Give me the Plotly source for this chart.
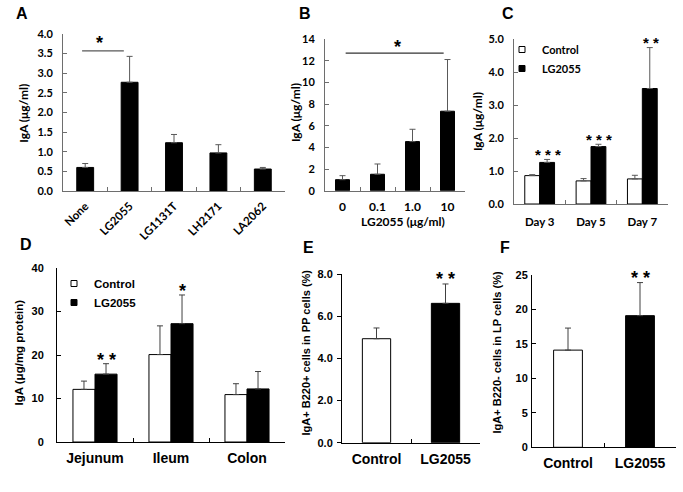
import plotly.graph_objects as go

W, H = 683, 492

# ---------------- data ----------------
a_cats = ["None", "LG2055", "LG1131T", "LH2171", "LA2062"]
a_vals = [0.60, 2.77, 1.23, 0.97, 0.56]
a_tops = [0.70, 3.43, 1.44, 1.18, 0.60]

b_cats = ["0", "0.1", "1.0", "10"]
b_vals = [1.02, 1.52, 4.54, 7.35]
b_tops = [1.39, 2.47, 5.68, 12.13]

c_cats = ["Day 3", "Day 5", "Day 7"]
c_ctrl = [0.86, 0.70, 0.76]
c_ctrl_tops = [0.89, 0.77, 0.87]
c_lg = [1.26, 1.74, 3.50]
c_lg_tops = [1.35, 1.81, 4.74]
c_stars = ["* * *", "* * *", "* *"]

d_cats = ["Jejunum", "Ileum", "Colon"]
d_ctrl = [12.1, 20.1, 10.9]
d_ctrl_tops = [14.0, 26.7, 13.4]
d_lg = [15.6, 27.2, 12.2]
d_lg_tops = [18.0, 33.8, 16.2]
d_stars = ["* *", "*", ""]

e_cats = ["Control", "LG2055"]
e_vals = [4.94, 6.62]
e_tops = [5.45, 7.54]
e_stars = ["", "* *"]

f_cats = ["Control", "LG2055"]
f_vals = [14.1, 19.1]
f_tops = [17.3, 23.9]
f_stars = ["", "* *"]


# ---------------- helpers ----------------
def xdom(x0, x1):
    return [x0 / W, x1 / W]


def ydom(ytop, ybot):
    return [1 - ybot / H, 1 - ytop / H]


def ups(vals, tops):
    return [t - v for v, t in zip(vals, tops)]


CAL = "Lato"
ARI = "Liberation Sans"
GRAY = "#595959"


def font(fam, size, color="black", bold=True):
    return dict(family=fam, size=size, color=color, weight="bold" if bold else "normal")


fig = go.Figure()


def add_bar(cats, vals, tops, ax, fill, width, offset=None, errcol="#404040", name=""):
    fig.add_trace(go.Bar(
        x=cats, y=vals, width=width, offset=offset, name=name, showlegend=False,
        marker=dict(color=fill, line=dict(color="black", width=1)),
        error_y=dict(type="data", symmetric=False, array=ups(vals, tops),
                     arrayminus=[0] * len(vals), thickness=1, width=3, color=errcol),
        xaxis="x" + ax, yaxis="y" + ax,
    ))


# A
add_bar(a_cats, a_vals, a_tops, "", "black", 0.38, errcol=GRAY)
# B
add_bar(b_cats, b_vals, b_tops, "2", "black", 0.40, errcol=GRAY)
# C
add_bar(c_cats, c_ctrl, c_ctrl_tops, "3", "white", 0.29, offset=-0.29, errcol=GRAY, name="Control")
add_bar(c_cats, c_lg, c_lg_tops, "3", "black", 0.29, offset=0.0, errcol=GRAY, name="LG2055")
# D
add_bar(d_cats, d_ctrl, d_ctrl_tops, "4", "white", 0.29, offset=-0.29, name="Control")
add_bar(d_cats, d_lg, d_lg_tops, "4", "black", 0.29, offset=0.0, name="LG2055")
# E
add_bar(e_cats, e_vals, e_tops, "5", ["white", "black"], 0.41)
# F
add_bar(f_cats, f_vals, f_tops, "6", ["white", "black"], 0.40)

# legend entries (small square keys)
for leg, ax in (("legend", "3"), ("legend2", "4")):
    for nm, col in (("Control", "white"), ("LG2055", "black")):
        fig.add_trace(go.Scatter(
            x=[None], y=[None], mode="markers", name=nm, legend=leg,
            marker=dict(symbol="square", size=6, color=col, line=dict(color="black", width=1)),
            xaxis="x" + ax, yaxis="y" + ax, showlegend=True))


# ---------------- axes ----------------
def xcat(dom, anchor, fnt, lc, angle=0, standoff=0):
    return dict(domain=dom, anchor=anchor, type="category", showline=True, linecolor=lc,
                linewidth=1, tickson="boundaries", ticks="inside", ticklen=4, tickcolor=lc,
                tickfont=fnt, tickangle=angle, showgrid=False, zeroline=False,
                ticklabelstandoff=standoff, fixedrange=True)


def yval(dom, anchor, rng, dt, fmt, fnt, lc, ticks="inside", standoff=0):
    return dict(domain=dom, anchor=anchor, range=rng, tick0=0, dtick=dt, tickformat=fmt,
                showline=True, linecolor=lc, linewidth=1, ticks=ticks, ticklen=4,
                tickcolor=lc, tickfont=fnt, showgrid=False, zeroline=False,
                ticklabelstandoff=standoff, fixedrange=True)


LC1 = "#6e6e6e"
fig.update_layout(
    xaxis=xcat(xdom(63, 285), "y", font(CAL, 11.5), LC1, angle=-45, standoff=3),
    yaxis=yval(ydom(34, 191), "x", [0, 4], 0.5, ".1f", font(CAL, 11), LC1, standoff=7),
    xaxis2=xcat(xdom(325, 465), "y2", font(CAL, 12), LC1, standoff=5),
    yaxis2=yval(ydom(39.3, 190.7), "x2", [0, 14], 2, "d", font(CAL, 11), LC1, standoff=7),
    xaxis3=xcat(xdom(514, 668), "y3", font(CAL, 11.5), LC1, standoff=7),
    yaxis3=yval(ydom(39, 204), "x3", [0, 5], 1, ".1f", font(CAL, 11), LC1, standoff=7),
    xaxis4=xcat(xdom(57, 285), "y4", font(ARI, 14), "black", standoff=3),
    yaxis4=yval(ydom(268, 442), "x4", [0, 40], 10, "d", font(ARI, 11), "black", standoff=10),
    xaxis5=xcat(xdom(342, 480), "y5", font(ARI, 14), "black", standoff=3),
    yaxis5=yval(ydom(274.3, 442.7), "x5", [0, 8], 2, ".1f", font(ARI, 11), "black",
                ticks="outside", standoff=2),
    xaxis6=xcat(xdom(532, 676), "y6", font(ARI, 14), "black", standoff=3),
    yaxis6=yval(ydom(275, 447.3), "x6", [0, 25], 5, "d", font(ARI, 11), "black", standoff=1),
)

fig.update_layout(
    width=W, height=H, margin=dict(l=0, r=0, t=0, b=0, autoexpand=False),
    paper_bgcolor="white", plot_bgcolor="white", barmode="overlay",
    legend=dict(x=(543 - 41) / W, y=1 - 35 / H, xanchor="left", yanchor="top",
                font=font(CAL, 11), bgcolor="rgba(0,0,0,0)", tracegroupgap=0),
    legend2=dict(x=(95 - 41) / W, y=1 - 269 / H, xanchor="left", yanchor="top",
                 font=font(ARI, 11.5), bgcolor="rgba(0,0,0,0)", tracegroupgap=0),
)

ann = []
# panel letters
for txt, x, y in (("A", 21.5, 14), ("B", 305, 14), ("C", 507.7, 14),
                  ("D", 26, 244.5), ("E", 308, 248), ("F", 505, 248)):
    ann.append(dict(text=txt, x=x / W, y=1 - y / H, xref="paper", yref="paper",
                    showarrow=False, font=font(ARI, 16), xanchor="center", yanchor="middle"))

# axis titles
for txt, x, y, fnt in (("IgA (μg/ml)", 22.7, 113, font(CAL, 12)),
                       ("IgA (μg/ml)", 295, 113, font(CAL, 12)),
                       ("IgA (μg/ml)", 478, 122, font(CAL, 12)),
                       ("IgA (μg/mg protein)", 18, 352.5, font(ARI, 11.5)),
                       ("IgA+ B220+ cells in PP cells (%)", 305, 352.5, font(ARI, 11)),
                       ("IgA+ B220- cells in LP cells (%)", 496, 352.5, font(ARI, 11))):
    ann.append(dict(text=txt, x=x / W, y=1 - y / H, xref="paper", yref="paper",
                    showarrow=False, font=fnt, textangle=-90,
                    xanchor="center", yanchor="middle"))
ann.append(dict(text="LG2055 (μg/ml)", x=403 / W, y=1 - 221 / H, xref="paper", yref="paper",
                showarrow=False, font=font(CAL, 12), xanchor="center", yanchor="middle"))

# significance lines with stars (A, B)
shapes = [
    dict(type="line", xref="x", yref="y", x0=-0.07, x1=0.87, y0=3.57, y1=3.57,
         line=dict(color=GRAY, width=1.3)),
    dict(type="line", xref="x2", yref="y2", x0=0.09, x1=2.89, y0=12.72, y1=12.72,
         line=dict(color="#333", width=1.1)),
]
ann.append(dict(text="*", x=0.33, y=3.57, xref="x", yref="y", showarrow=False,
                font=font(ARI, 18), yanchor="middle", yshift=8))
ann.append(dict(text="*", x=1.56, y=12.72, xref="x2", yref="y2", showarrow=False,
                font=font(ARI, 18), yanchor="middle", yshift=6))


# stars above bars
def star_ann(stars, tops, ax, offset, size, gap):
    for i, (s, t) in enumerate(zip(stars, tops)):
        if s:
            ann.append(dict(text=s, x=i + offset, y=t, xref="x" + ax, yref="y" + ax,
                            showarrow=False, font=font(ARI, size), yanchor="middle",
                            yshift=gap))


star_ann(c_stars, c_lg_tops, "3", 0.16, 15, 5)
star_ann(d_stars, d_lg_tops, "4", 0.15, 18, 4)
star_ann(e_stars, e_tops, "5", 0.0, 18, 5)
star_ann(f_stars, f_tops, "6", 0.0, 18, 5)

fig.update_layout(annotations=ann, shapes=shapes)

fig.write_html("out.html", config={"displayModeBar": False},
               post_script="document.body.style.margin='0';")
